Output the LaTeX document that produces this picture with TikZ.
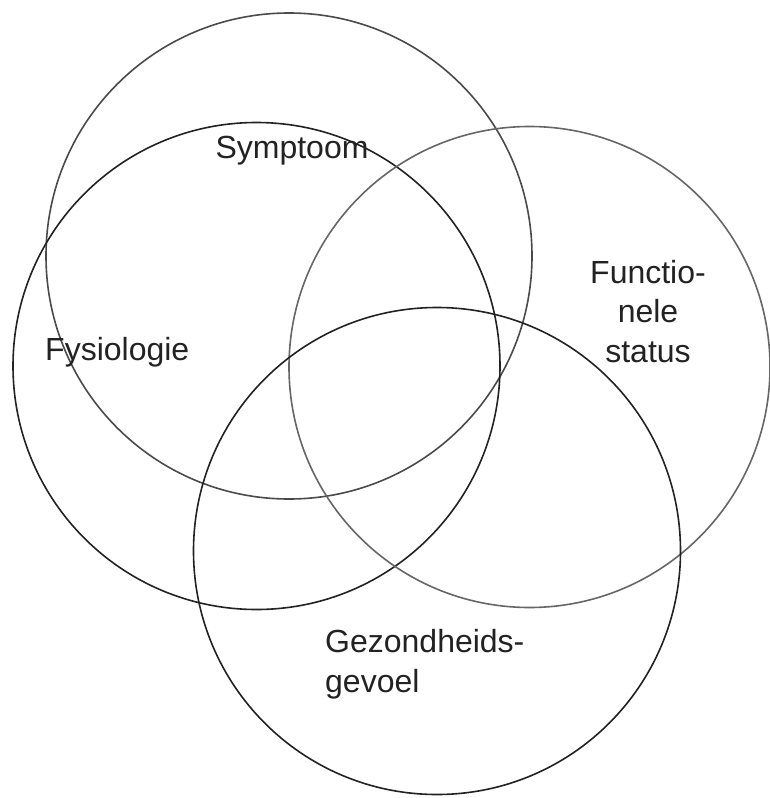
\documentclass[tikz,border=0pt]{standalone}
\usepackage{fontspec}
\setmainfont{Liberation Sans}
\usepackage{xcolor}
\definecolor{ink}{HTML}{222222}
\definecolor{midgray}{HTML}{4A4A4A}
\definecolor{softgray}{HTML}{666666}

\begin{document}
\begin{tikzpicture}[x=1pt, y=-1pt, ring/.style={draw=#1, line width=1.6pt}, lbl/.style={font=\fontsize{32}{39.5}\selectfont, inner sep=0pt, text=ink}]
\useasboundingbox (0,0) rectangle (770,798);
\coordinate (symc) at (289,256);
\coordinate (fysc) at (256.5,366);
\coordinate (func) at (529.5,367);
\coordinate (gevc) at (437,551);

\draw[ring=midgray] (symc) circle[radius=243];
\draw[ring=ink] (fysc) circle[radius=243.5];
\draw[ring=softgray] (func) circle[radius=240.5];
\draw[ring=ink] (gevc) circle[radius=243.5];

\node[lbl, anchor=base] (symptoom) at (292,158) {Symptoom};
\node[lbl, anchor=base west] (fysiologie) at (45,360) {Fysiologie};
\node[lbl, align=center, anchor=base] (functie) at (648,362) {Functio-\\nele\\status};
\node[lbl, align=left, anchor=base west] (gevoel) at (325,692) {Gezondheids-\\gevoel};
\end{tikzpicture}
\end{document}
